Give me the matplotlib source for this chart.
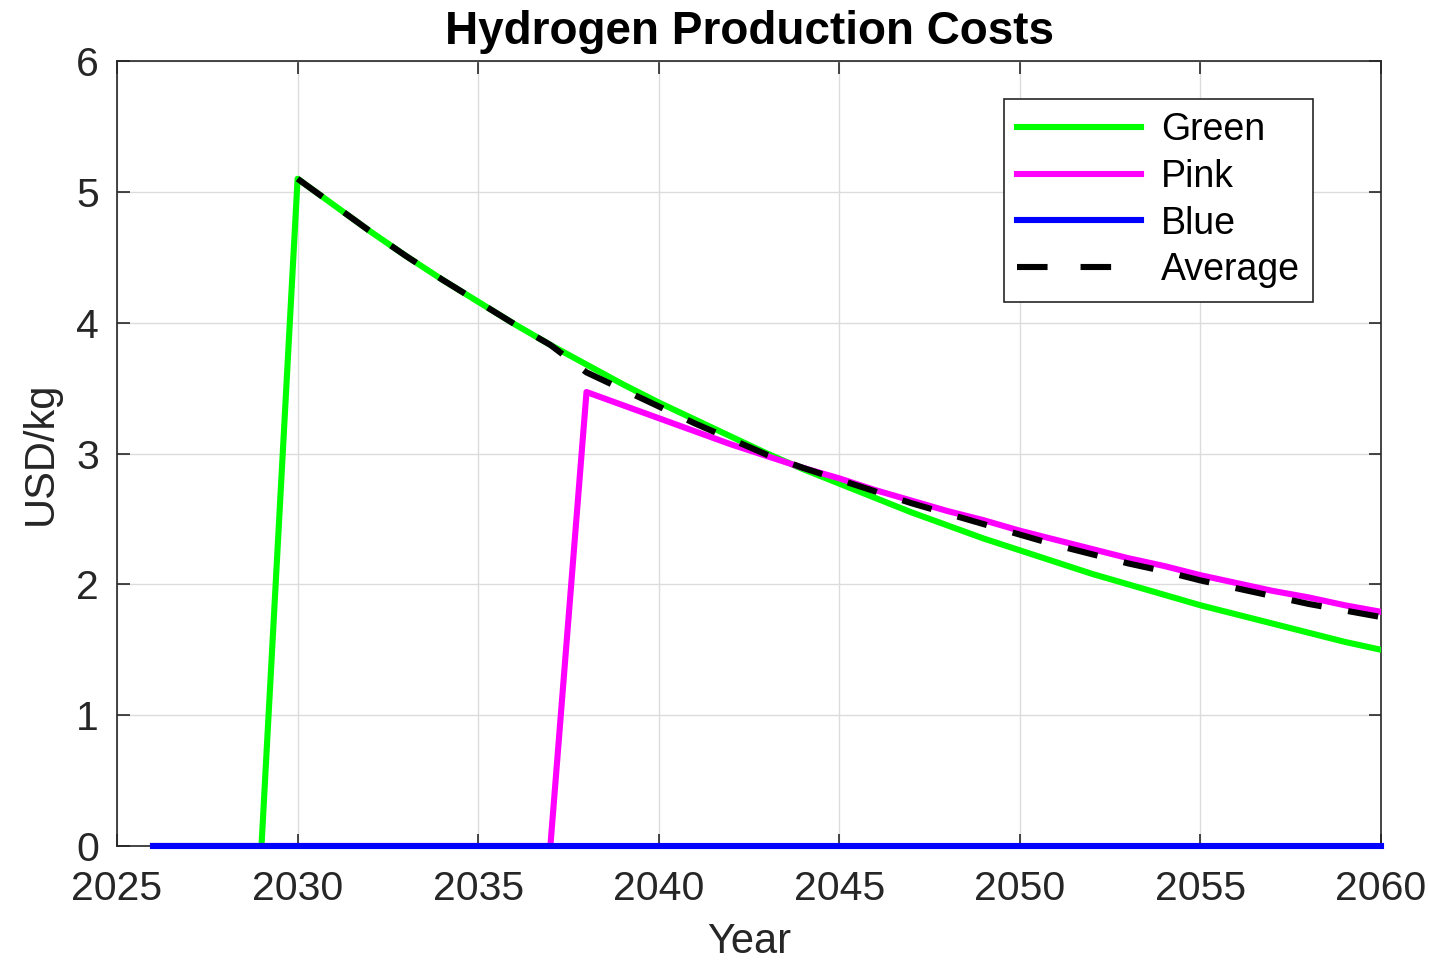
import numpy as np
import matplotlib
matplotlib.use("Agg")
import matplotlib.pyplot as plt
from matplotlib.lines import Line2D

plt.rcParams['font.family'] = ['Liberation Sans', 'DejaVu Sans']

years = np.arange(2026, 2061)

# values (USD/kg)
green = [0, 0, 0, 0,
         5.10, 4.90, 4.70, 4.51, 4.33, 4.16, 3.99, 3.83, 3.68, 3.53,
         3.39, 3.26, 3.13, 3.00, 2.88, 2.77, 2.66, 2.55, 2.45, 2.35,
         2.26, 2.17, 2.08, 2.00, 1.92, 1.84, 1.77, 1.70, 1.63, 1.56, 1.50]
pink = [0, 0, 0, 0, 0, 0, 0, 0, 0, 0, 0, 0,
        3.47, 3.37, 3.27, 3.17, 3.07, 2.98, 2.89, 2.81, 2.72, 2.64,
        2.56, 2.49, 2.41, 2.34, 2.27, 2.20, 2.14, 2.07, 2.01, 1.95,
        1.90, 1.84, 1.79]
blue = [0] * 35
average = [np.nan, np.nan, np.nan, np.nan,
           5.10, 4.90, 4.70, 4.51, 4.33, 4.16, 3.99, 3.83, 3.62, 3.49,
           3.36, 3.23, 3.11, 2.99, 2.89, 2.80, 2.71, 2.62, 2.54, 2.46,
           2.38, 2.30, 2.23, 2.16, 2.10, 2.03, 1.97, 1.91, 1.85, 1.80, 1.75]

fig = plt.figure(figsize=(14.29, 9.64), dpi=100)
ax = fig.add_axes([0.0819, 0.1224, 0.8845, 0.8143])

lw = 4.4
h_green, = ax.plot(years, green, color='#00ff00', lw=lw, label='Green', zorder=3)
h_pink, = ax.plot(years, pink, color='#ff00ff', lw=lw, label='Pink', zorder=3)
h_blue, = ax.plot(years, blue, color='#0000ff', lw=lw, label='Blue', zorder=4, clip_on=False)
ax.plot(years, average, color='black', lw=lw, linestyle=(0, (5, 4.4)),
        dash_capstyle='butt', zorder=5)
# legend entry for the dashed line (wider gap like the original)
h_avg = Line2D([], [], color='black', lw=lw, linestyle=(0, (5, 5.4)),
               dash_capstyle='butt')

ax.set_xlim(2025, 2060)
ax.set_ylim(0, 6)
ax.set_xticks(range(2025, 2061, 5))
ax.set_yticks(range(0, 7))

ax.grid(True, color='#dcdcdc', lw=1.0)
ax.set_axisbelow(True)
for s in ax.spines.values():
    s.set_color('#262626')
    s.set_linewidth(1.2)
ax.tick_params(direction='in', length=9, width=1.2, colors='#262626',
               labelsize=29.5, top=True, right=True)
ax.tick_params(axis='x', pad=17)
ax.tick_params(axis='y', pad=13)
for t in ax.get_xticklabels() + ax.get_yticklabels():
    t.set_color('#262626')

ax.set_xlabel('Year', fontsize=30, color='#262626', labelpad=10)
ax.set_ylabel('USD/kg', fontsize=30, color='#262626', labelpad=11)
ax.set_title('Hydrogen Production Costs', fontsize=33, fontweight='bold', pad=12)

leg = ax.legend([h_green, h_pink, h_blue, h_avg],
                ['Green', 'Pink', 'Blue', 'Average'],
                loc='upper right', bbox_to_anchor=(0.9465, 0.952), fontsize=27,
                frameon=True, fancybox=False, handlelength=3.3,
                handletextpad=0.55, labelspacing=0.29, borderpad=0.35,
                borderaxespad=0)
leg.get_frame().set_edgecolor('#262626')
leg.get_frame().set_linewidth(1.2)
leg.get_frame().set_alpha(1)

fig.savefig('out.png', dpi=100)
